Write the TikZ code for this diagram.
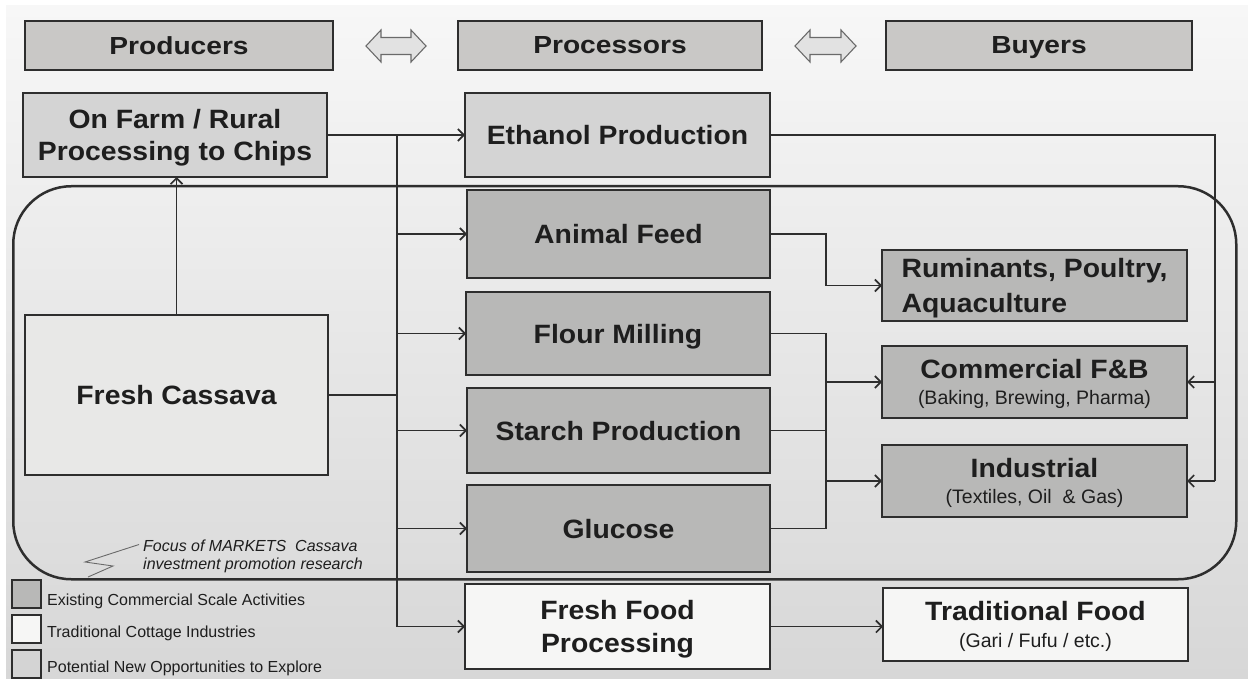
\documentclass[tikz,border=0pt]{standalone}
\usepackage{fontspec}
\setmainfont{Liberation Sans}
\newfontfamily\hdrfam{Liberation Sans}[FakeStretch=1.14]
\newfontfamily\boxfam{Liberation Sans}[FakeStretch=1.07]
\usetikzlibrary{arrows.meta}
\newcommand\myhdr{\hdrfam\bfseries\fontsize{24.7}{30}\selectfont}
\newcommand\mybox{\boxfam\bfseries\fontsize{26.5}{33}\selectfont}
\newcommand\mysub{\fontsize{19.5}{26}\selectfont}
\newcommand\mysubT{\fontsize{19.5}{27.5}\selectfont}
\newcommand\myleg{\fontsize{16}{19}\selectfont}
\newcommand\mynote{\itshape\fontsize{16}{18}\selectfont}
\definecolor{edge}{HTML}{2E2E2E}
\definecolor{txt}{HTML}{1E1E1E}
\definecolor{hdrfill}{HTML}{C9C8C6}
\definecolor{ltfill}{HTML}{D4D4D4}
\definecolor{dkfill}{HTML}{B8B8B7}
\definecolor{whfill}{HTML}{F6F6F5}
\definecolor{fcfill}{HTML}{E8E8E7}
\definecolor{bgtop}{HTML}{F7F7F7}
\definecolor{bgbot}{HTML}{D7D7D7}
\definecolor{arrfill}{HTML}{E2E2E2}
\definecolor{arredge}{HTML}{6A6A6A}
\tikzset{
  box/.style={draw=edge, line width=1.3pt, inner sep=0pt, outer sep=0pt,
    anchor=north west, align=center, text depth=0pt, font=\mybox, text=txt},
  hdrbox/.style={box, fill=hdrfill, font=\myhdr, minimum height=49pt},
  ltbox/.style={box, fill=ltfill},
  dkbox/.style={box, fill=dkfill},
  whbox/.style={box, fill=whfill},
  fcbox/.style={box, fill=fcfill},
  subbox/.style={font=\mysub, text depth=-7pt},
  conn/.style={draw=edge, line width=1.6pt},
  arr/.style={conn, -{Straight Barb[length=6pt,width=12pt]}},
  legsq/.style={draw=edge, line width=1.2pt, inner sep=0pt, outer sep=0pt,
    anchor=north west, minimum width=29pt, minimum height=28pt},
  legtxt/.style={font=\myleg, text=txt, inner sep=0pt, anchor=base west},
  notetxt/.style={font=\mynote, text=txt, inner sep=0pt, anchor=base west},
  dblarr/.style={draw=arredge, fill=arrfill, line width=1.1pt, line join=miter}
}
\begin{document}
\begin{tikzpicture}[x=1pt, y=-1pt]
\useasboundingbox (0,0) rectangle (1248,679);
\shade[top color=bgtop, bottom color=bgbot] (6,6) rectangle (1248,679);

% focus area
\node[draw=edge, line width=2.5pt, rounded corners=58pt, inner sep=0pt,
  anchor=north west, minimum width=1223pt, minimum height=393pt] (focus) at (12,185) {};

% headers
\node[hdrbox, minimum width=308pt] (prod) at (25,21) {Producers};
\node[hdrbox, minimum width=304pt] (proc) at (458,21) {Processors};
\node[hdrbox, minimum width=306pt] (buy) at (886,21) {Buyers};
\draw[dblarr] (366,46) -- (381,30) -- (381,37.5) -- (411,37.5) -- (411,30) -- (426,46)
  -- (411,62) -- (411,54.5) -- (381,54.5) -- (381,62) -- cycle;
\draw[dblarr] (795,46) -- (810,30) -- (810,37.5) -- (841,37.5) -- (841,30) -- (856,46)
  -- (841,62) -- (841,54.5) -- (810,54.5) -- (810,62) -- cycle;

% boxes
\node[ltbox, minimum width=304pt, minimum height=84pt] (farm) at (23,93) {On Farm / Rural\\[-1pt]Processing to Chips};
\node[ltbox, minimum width=305pt, minimum height=84pt] (eth) at (465,93) {Ethanol Production};
\node[fcbox, minimum width=303pt, minimum height=160pt] (cass) at (25,315) {Fresh Cassava};
\node[dkbox, minimum width=303pt, minimum height=88pt] (feed) at (467,190) {Animal Feed};
\node[dkbox, minimum width=304pt, minimum height=83pt] (flour) at (466,292) {Flour Milling};
\node[dkbox, minimum width=303pt, minimum height=85pt] (starch) at (467,388) {Starch Production};
\node[dkbox, minimum width=303pt, minimum height=87pt] (gluc) at (467,485) {Glucose};
\node[whbox, minimum width=305pt, minimum height=85pt] (ffp) at (465,584) {Fresh Food\\Processing};
\node[dkbox, minimum width=305pt, minimum height=71pt, align=left] (rum) at (882,250) {Ruminants, Poultry,\\[2pt]Aquaculture};
\node[dkbox, subbox, minimum width=305pt, minimum height=72pt] (cfb) at (882,346)
  {{\mybox Commercial F\&B}\\(Baking, Brewing, Pharma)};
\node[dkbox, subbox, minimum width=305pt, minimum height=72pt] (ind) at (882,445)
  {{\mybox Industrial}\\(Textiles, Oil\ \ \& Gas)};
\node[whbox, subbox, font=\mysubT, minimum width=305pt, minimum height=73pt] (trad) at (883,588)
  {{\mybox Traditional Food}\\(Gari / Fufu / etc.)};

% trunk
\coordinate (tt) at (397,135);
\coordinate (tb) at (397,626.5);
\draw[conn] (farm.east) -- (tt);
\draw[arr] (tt) -- (eth.west);
\draw[conn, line width=1.9pt] (tt) -- (tb);
\draw[conn] (cass.east) -- (cass.east -| tt);
\draw[arr] (tt |- feed.west) -- (feed.west);
\draw[arr] (tt |- flour.west) -- (flour.west);
\draw[arr] (tt |- starch.west) -- (starch.west);
\draw[arr] (tt |- gluc.west) -- (gluc.west);
\draw[arr] (tb) -- (ffp.west);
\draw[arr] (cass.north) -- (cass.north |- farm.south);

% ethanol to buyers
\coordinate (er) at (1215,135);
\draw[conn] (eth.east) -- (er) -- (er |- ind.east);
\draw[arr] (er |- cfb.east) -- (cfb.east);
\draw[arr] (er |- ind.east) -- (ind.east);

% processors to buyers
\coordinate (mb) at (826,300);
\draw[arr] (feed.east) -- (feed.east -| mb) |- (rum.west);
\draw[conn] (flour.east) -- (flour.east -| mb) -- (gluc.east -| mb) -- (gluc.east);
\draw[conn] (starch.east) -- (starch.east -| mb);
\draw[arr] (mb |- cfb.west) -- (cfb.west);
\draw[arr] (mb |- ind.west) -- (ind.west);
\draw[arr] (ffp.east) -- (ffp.east -| trad.west);

% note
\node[notetxt] (note1) at (143,551.5) {Focus of MARKETS\ \ Cassava};
\node[notetxt] (note2) at (143,569.5) {investment promotion research};
\draw[arredge, line width=0.9pt] (note1.base west) ++(-4,-7) coordinate (zz0) -- (85,562) -- (113,566) -- (88,577);

% legend
\node[legsq, fill=dkfill] (leg1) at (12,580) {};
\node[legsq, fill=whfill] (leg2) at (12,615) {};
\node[legsq, fill=ltfill] (leg3) at (12,650) {};
\node[legtxt] (legt1) at (47,605) {Existing Commercial Scale Activities};
\node[legtxt] (legt2) at (47,637) {Traditional Cottage Industries};
\node[legtxt] (legt3) at (47,672) {Potential New Opportunities to Explore};
\end{tikzpicture}
\end{document}
